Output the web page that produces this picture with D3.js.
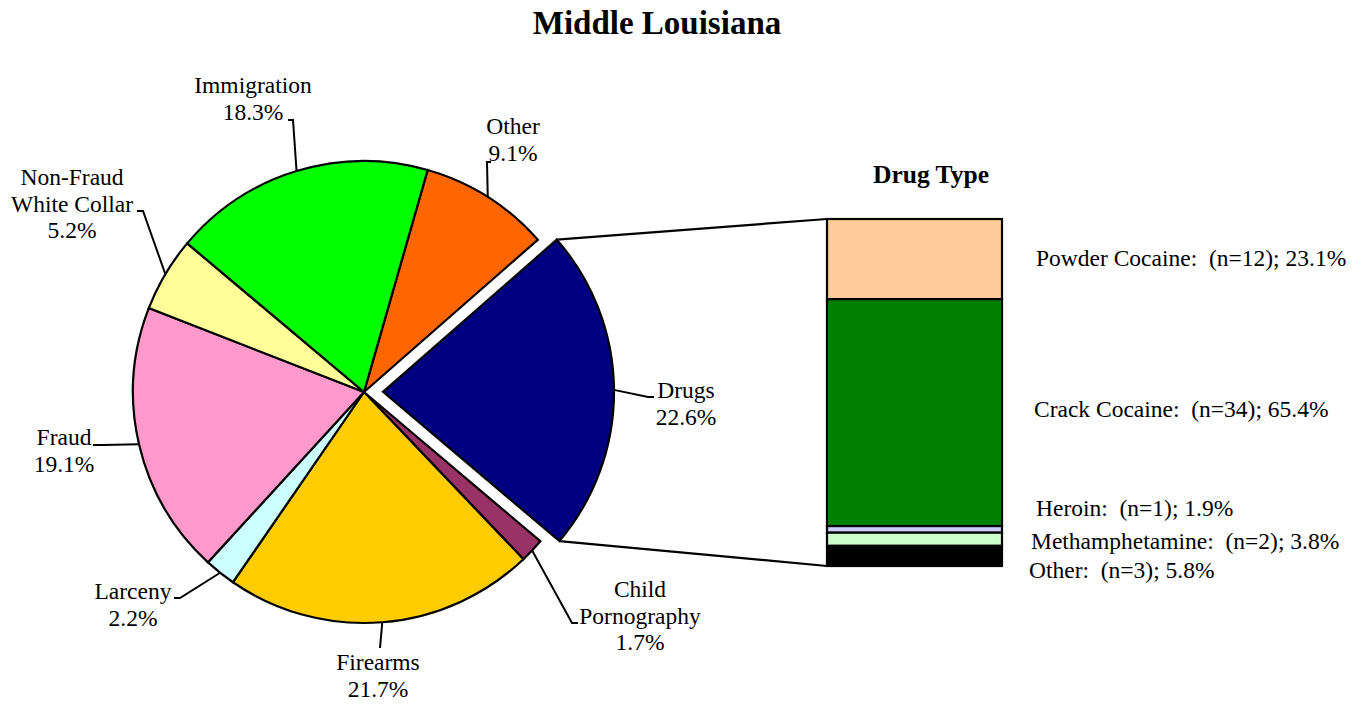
<!DOCTYPE html>
<html>
<head>
<meta charset="utf-8">
<script src="https://cdn.jsdelivr.net/npm/d3@7"></script>
<style>
  body { margin: 0; background: #fff; }
  text { font-family: "Liberation Serif", "Times New Roman", serif; fill: #000; }
</style>
</head>
<body>
<script>
const width = 1367;
const height = 704;

// pie data: offense types, clockwise starting with Other
const offenses = ["Other", "Drugs", "Child Pornography", "Firearms", "Larceny", "Fraud", "Non-Fraud White Collar", "Immigration"];
const offensePct = [9.1, 22.6, 1.7, 21.7, 2.2, 19.1, 5.2, 18.3];
const offenseColors = ["#FF6600", "#000080", "#993366", "#FFCC00", "#CCFFFF", "#FF99CC", "#FFFF99", "#00FF00"];

// drug type breakdown (top to bottom)
const drugTypes = ["Powder Cocaine", "Crack Cocaine", "Heroin", "Methamphetamine", "Other"];
const drugCounts = [12, 34, 1, 2, 3];
const drugPct = [23.1, 65.4, 1.9, 3.8, 5.8];
const drugColors = ["#FFCC99", "#008000", "#CCCCFF", "#CCFFCC", "#000000"];

const svg = d3.select('body').append('svg').attr('width', width).attr('height', height);

svg.append("text")
  .attr("x", 657).attr("y", 34)
  .attr("text-anchor", "middle")
  .style("font-size", "33px").style("font-weight", "bold")
  .text("Middle Louisiana");

// pie
const cx = 364, cy = 392, r = 231, explode = 19;
const startA = 16 * Math.PI / 180;
const pie = d3.pie().sort(null).startAngle(startA).endAngle(startA + 2 * Math.PI);
const arcs = pie(offensePct);
const arc = d3.arc().innerRadius(0).outerRadius(r);

const offsetOf = (d, i) => {
  if (offenses[i] !== "Drugs") return [0, 0];
  const m = (d.startAngle + d.endAngle) / 2;
  return [explode * Math.sin(m), -explode * Math.cos(m)];
};

const g = svg.append("g").attr("transform", `translate(${cx},${cy})`);
g.selectAll("path.slice")
  .data(arcs)
  .enter()
  .append("path")
  .attr("class", "slice")
  .attr("d", arc)
  .attr("transform", (d, i) => `translate(${offsetOf(d, i)})`)
  .style("fill", (d, i) => offenseColors[i])
  .style("stroke", "black")
  .style("stroke-width", 2.2)
  .style("stroke-linejoin", "miter");

// label layout: text position, leader elbow and end (layout only)
const labelLayout = {
  "Other": { x: 513, y: 134, lines: ["Other", "9.1%"], elbow: [487, 162], end: [491, 162] },
  "Drugs": { x: 686, y: 398, lines: ["Drugs", "22.6%"], elbow: [648, 397], end: [654, 397] },
  "Child Pornography": { x: 640, y: 597, lines: ["Child", "Pornography", "1.7%"], elbow: [572, 623], end: [578, 623] },
  "Firearms": { x: 378, y: 670, lines: ["Firearms", "21.7%"], elbow: [380, 648], end: [380, 648] },
  "Larceny": { x: 133, y: 599, lines: ["Larceny", "2.2%"], elbow: [180, 598], end: [174, 598] },
  "Fraud": { x: 64, y: 445, lines: ["Fraud", "19.1%"], elbow: [103, 445], end: [93, 445] },
  "Non-Fraud White Collar": { x: 72, y: 185, lines: ["Non-Fraud", "White Collar", "5.2%"], elbow: [143, 211], end: [137, 211] },
  "Immigration": { x: 253, y: 93, lines: ["Immigration", "18.3%"], elbow: [293, 120], end: [288, 120] }
};

arcs.forEach((d, i) => {
  const L = labelLayout[offenses[i]];
  const m = (d.startAngle + d.endAngle) / 2;
  const off = offsetOf(d, i);
  const sx = cx + off[0] + r * Math.sin(m);
  const sy = cy + off[1] - r * Math.cos(m);
  svg.append("path")
    .attr("d", d3.line()([[sx, sy], L.elbow, L.end]))
    .style("fill", "none").style("stroke", "black").style("stroke-width", 2);
  const t = svg.append("text")
    .attr("text-anchor", "middle")
    .style("font-size", "23.5px");
  L.lines.forEach((s, k) => {
    t.append("tspan").attr("x", L.x).attr("y", L.y + k * 26.5).text(s);
  });
});

// stacked bar for drug types
const barX0 = 827, barX1 = 1002;
const y = d3.scaleLinear().domain([0, 100]).range([219, 566]);
let cum = 0;
const stacks = drugPct.map((p, i) => {
  const s = { y0: cum, y1: cum + p, i };
  cum += p;
  return s;
});

// connector lines from the exploded slice to the bar
const dIdx = offenses.indexOf("Drugs");
const dArc = arcs[dIdx];
const dOff = offsetOf(dArc, dIdx);
const p0 = [cx + dOff[0] + r * Math.sin(dArc.startAngle), cy + dOff[1] - r * Math.cos(dArc.startAngle)];
const p1 = [cx + dOff[0] + r * Math.sin(dArc.endAngle), cy + dOff[1] - r * Math.cos(dArc.endAngle)];
svg.append("line").attr("x1", p0[0]).attr("y1", p0[1]).attr("x2", barX0).attr("y2", y(0))
  .style("stroke", "black").style("stroke-width", 2.2);
svg.append("line").attr("x1", p1[0]).attr("y1", p1[1]).attr("x2", barX0).attr("y2", y(100))
  .style("stroke", "black").style("stroke-width", 2.2);

svg.selectAll("rect.drug")
  .data(stacks)
  .enter()
  .append("rect")
  .attr("class", "drug")
  .attr("x", barX0)
  .attr("width", barX1 - barX0)
  .attr("y", d => y(d.y0))
  .attr("height", d => y(d.y1) - y(d.y0))
  .style("fill", d => drugColors[d.i])
  .style("stroke", "black")
  .style("stroke-width", 2.2);

svg.append("text")
  .attr("x", 931).attr("y", 183)
  .attr("text-anchor", "middle")
  .style("font-size", "25.5px").style("font-weight", "bold")
  .text("Drug Type");

// drug labels: layout positions
const drugLabelX = [1036, 1034, 1036, 1031, 1029];
const drugLabelY = [266, 417, 516, 549, 578];
svg.selectAll("text.druglab")
  .data(drugTypes)
  .enter()
  .append("text")
  .attr("class", "druglab")
  .attr("x", (d, i) => drugLabelX[i])
  .attr("y", (d, i) => drugLabelY[i])
  .attr("xml:space", "preserve")
  .style("white-space", "pre")
  .style("font-size", "23.5px")
  .text((d, i) => `${d}:  (n=${drugCounts[i]}); ${drugPct[i].toFixed(1)}%`);
</script>
</body>
</html>
